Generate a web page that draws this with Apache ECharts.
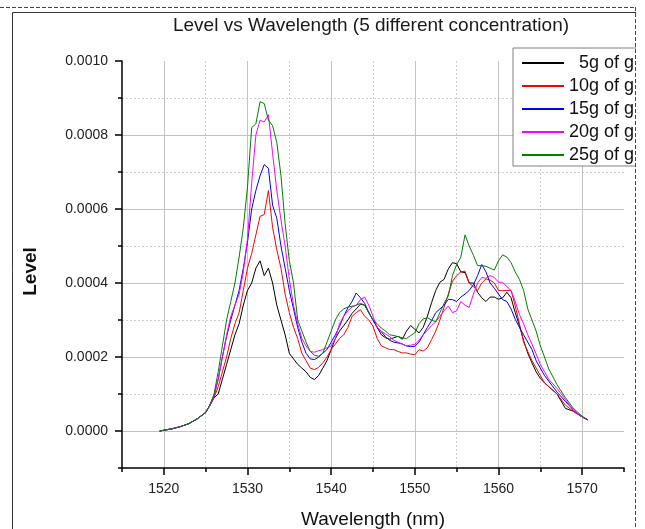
<!DOCTYPE html>
<html><head><meta charset="utf-8">
<script src="https://cdn.jsdelivr.net/npm/echarts@6/dist/echarts.min.js"></script>
<style>html,body{margin:0;padding:0;background:#fff}#c{width:645px;height:529px}</style>
</head><body><div id="c"></div>
<script>
// ---------------- data ----------------
const wavelengths = [
  1519.5, 1520, 1521, 1522, 1523, 1524, 1525, 1525.5,
  1526, 1526.5, 1527, 1527.5, 1528, 1528.5, 1529, 1529.5, 1530, 1530.5,
  1531, 1531.5, 1532, 1532.5, 1533, 1533.5, 1534, 1534.5, 1535, 1535.5,
  1536, 1536.5, 1537, 1537.5, 1538, 1538.5, 1539, 1539.5, 1540, 1540.5,
  1541, 1541.5, 1542, 1542.5, 1543, 1543.5, 1544, 1544.5, 1545, 1545.5,
  1546, 1546.5, 1547, 1547.5, 1548, 1548.5, 1549, 1549.5, 1550, 1550.5,
  1551, 1551.5, 1552, 1552.5, 1553, 1553.5, 1554, 1554.5, 1555, 1555.5,
  1556, 1556.5, 1557, 1557.5, 1558, 1558.5, 1559, 1559.5, 1560, 1560.5,
  1561, 1561.5, 1562, 1562.5, 1563, 1563.5, 1564, 1564.5, 1565, 1565.5,
  1566, 1567, 1568, 1569, 1570, 1570.7
];
const level5g = [
  0, 0.000002, 0.000006, 0.000012, 0.00002, 0.000033, 0.00005, 0.000068,
  0.00009, 0.0001, 0.00014, 0.00018, 0.00022, 0.00026, 0.00029, 0.00034, 0.00038, 0.0004,
  0.00044, 0.00046, 0.00042, 0.00044, 0.0004, 0.00034, 0.0003, 0.00026, 0.00021, 0.000195,
  0.00018, 0.00017, 0.00016, 0.000145, 0.000139, 0.00015, 0.00017, 0.00019, 0.00022, 0.00025,
  0.00027, 0.000285, 0.0003, 0.000318, 0.00033, 0.000343, 0.00034, 0.00032, 0.0003, 0.00028,
  0.00026, 0.000252, 0.000248, 0.000252, 0.000256, 0.000248, 0.00027, 0.000285, 0.000275, 0.000265,
  0.00028, 0.00031, 0.000347, 0.00038, 0.000402, 0.00041, 0.000438, 0.000455, 0.000452, 0.00043,
  0.000428, 0.0004, 0.0004, 0.000375, 0.00036, 0.00035, 0.000362, 0.000362, 0.000356, 0.00036,
  0.000375, 0.00036, 0.00032, 0.000285, 0.000245, 0.00021, 0.000184, 0.00016, 0.000142, 0.00013,
  0.00012, 0.0001, 0.000061, 0.000053, 0.000038, 0.00003
];
const level10g = [
  0, 0.000002, 0.000006, 0.000012, 0.00002, 0.000033, 0.00005, 0.00007,
  0.00009, 0.00012, 0.00016, 0.0002, 0.00025, 0.00029, 0.00032, 0.00038, 0.00044, 0.00048,
  0.00053, 0.00058, 0.000585, 0.00065, 0.00055, 0.00049, 0.00044, 0.00037, 0.00032, 0.00028,
  0.00025, 0.00021, 0.00019, 0.00017, 0.000166, 0.000172, 0.000184, 0.0002, 0.00022, 0.000235,
  0.00025, 0.00026, 0.00028, 0.00031, 0.00032, 0.000328, 0.00031, 0.0003, 0.000283, 0.00025,
  0.00023, 0.000225, 0.00022, 0.00022, 0.000215, 0.000211, 0.000211, 0.000208, 0.000206, 0.00022,
  0.000216, 0.000225, 0.000247, 0.00027, 0.0003, 0.000335, 0.00037, 0.000405, 0.00042, 0.00043,
  0.000432, 0.0004, 0.00039, 0.00038, 0.0004, 0.000411, 0.000408, 0.0004, 0.00038, 0.000379,
  0.00038, 0.00038, 0.000338, 0.00029, 0.00024, 0.000215, 0.00019, 0.00017, 0.00015, 0.00013,
  0.00012, 0.0001, 0.00007, 0.000052, 0.000038, 0.00003
];
const level15g = [
  0, 0.000002, 0.000006, 0.000012, 0.00002, 0.000033, 0.00005, 0.00007,
  0.000095, 0.00014, 0.0002, 0.000255, 0.0003, 0.00034, 0.00038, 0.00044, 0.00051, 0.0006,
  0.00065, 0.00069, 0.00072, 0.00071, 0.00061, 0.000575, 0.0005, 0.00044, 0.00038, 0.00033,
  0.00028, 0.00024, 0.00021, 0.000195, 0.000193, 0.0002, 0.00021, 0.00022, 0.00024, 0.00026,
  0.000283, 0.00031, 0.000333, 0.00035, 0.000373, 0.00036, 0.000345, 0.00032, 0.0003, 0.00028,
  0.000268, 0.000255, 0.000245, 0.00024, 0.000238, 0.000235, 0.00023, 0.000228, 0.000229, 0.00024,
  0.00026, 0.00028, 0.000298, 0.00032, 0.00033, 0.00034, 0.000356, 0.000355, 0.00035, 0.000362,
  0.00037, 0.00038, 0.000395, 0.00042, 0.00045, 0.00043, 0.0004, 0.000386, 0.00037, 0.000355,
  0.00035, 0.00033, 0.000302, 0.00028, 0.00026, 0.00024, 0.00022, 0.00019, 0.00017, 0.00015,
  0.000135, 0.000105, 0.00008, 0.000055, 0.000038, 0.00003
];
const level20g = [
  0, 0.000002, 0.000006, 0.000012, 0.00002, 0.000033, 0.00005, 0.00007,
  0.000095, 0.00014, 0.0002, 0.00026, 0.00031, 0.00034, 0.00037, 0.00043, 0.00052, 0.00067,
  0.0008, 0.00084, 0.000835, 0.000855, 0.00075, 0.00065, 0.00057, 0.0005, 0.00041, 0.00034,
  0.00029, 0.00025, 0.00023, 0.000215, 0.000213, 0.000217, 0.00022, 0.000225, 0.00023, 0.00025,
  0.00029, 0.00031, 0.000325, 0.000335, 0.00034, 0.000355, 0.000362, 0.00034, 0.00031, 0.00028,
  0.00027, 0.000262, 0.000255, 0.000245, 0.00024, 0.000235, 0.00023, 0.000232, 0.000234, 0.000245,
  0.00026, 0.000272, 0.000285, 0.000295, 0.00031, 0.000325, 0.000338, 0.00032, 0.000325, 0.00035,
  0.00034, 0.000334, 0.00037, 0.0004, 0.000415, 0.000413, 0.00042, 0.000415, 0.000402, 0.000402,
  0.00039, 0.00038, 0.00035, 0.000315, 0.00029, 0.00026, 0.000235, 0.000208, 0.00018, 0.00016,
  0.00014, 0.000115, 0.000085, 0.000055, 0.000038, 0.00003
];
const level25g = [
  0, 0.000002, 0.000006, 0.000012, 0.00002, 0.000033, 0.00005, 0.00007,
  0.0001, 0.00016, 0.00023, 0.0003, 0.00035, 0.0004, 0.00047, 0.00055, 0.00066, 0.00082,
  0.00083, 0.00089, 0.000885, 0.00084, 0.000825, 0.00078, 0.00069, 0.00056, 0.00046, 0.0004,
  0.0003, 0.00027, 0.00024, 0.000215, 0.000205, 0.000202, 0.00021, 0.00024, 0.00027, 0.0003,
  0.00032, 0.00033, 0.000335, 0.000337, 0.00034, 0.000345, 0.00034, 0.00032, 0.0003, 0.00029,
  0.000278, 0.00027, 0.00026, 0.000258, 0.000255, 0.000252, 0.00025, 0.000258, 0.000265, 0.00029,
  0.000303, 0.000306, 0.0003, 0.000295, 0.00032, 0.000345, 0.000365, 0.00042, 0.00045, 0.00047,
  0.00053, 0.0005, 0.000475, 0.000447, 0.000447, 0.000445, 0.00044, 0.000435, 0.00046, 0.000476,
  0.00047, 0.000455, 0.00043, 0.00041, 0.00038, 0.00033, 0.0003, 0.00027, 0.00023, 0.0002,
  0.000168, 0.000125, 0.00009, 0.00006, 0.00004, 0.00003
];
const seriesNames = ['5g of g', '10g of g', '15g of g', '20g of g', '25g of g'];
const seriesLevels = [level5g, level10g, level15g, level20g, level25g];
const seriesColors = ['#000000', '#ff0000', '#0000ff', '#ff00ff', '#008000'];
const xMajorTicks = [1520, 1575, 10];      // first tick, axis end, step of labelled ticks
const yMajorTicks = [0, 0.001, 0.0002];    // first, last, step of labelled ticks
const titleText = 'Level vs Wavelength (5 different concentration)';
const xTitle = 'Wavelength (nm)';
const yTitle = 'Level';

// ---------------- layout ----------------
const W = 645, H = 529;
const L = 122, R = 624, T = 61, B = 468;          // plot frame in px
const xMin = 1515, xMax = 1575, yMin = -0.0001, yMax = 0.001;
const px = v => L + (v - xMin) / (xMax - xMin) * (R - L);
const py = v => B - (v - yMin) / (yMax - yMin) * (B - T);
const FONT = '"Liberation Sans", Arial, sans-serif';
const TR = 'rgba(0,0,0,0)';
const MINOR = '#cfcfcf';
const MAJOR = '#c2c2c2';
// minor (dotted) grid lines: only between labelled ticks
const xMinorColors = [TR, TR, MINOR, TR, MINOR, TR, MINOR, TR, MINOR, TR, MINOR, TR, TR];
const yMinorColors = [TR, TR, MINOR, TR, MINOR, TR, MINOR, TR, MINOR, TR, MINOR, TR];
// major vertical grid lines at 1520..1570, none at the axis end (1575)
const xMajorColors = [MAJOR, MAJOR, MAJOR, MAJOR, MAJOR, MAJOR, TR];
const axisLineStyle = { color: '#000', width: 1.5 };

const chart = echarts.init(document.getElementById('c'), null, { renderer: 'canvas' });
chart.setOption({
  animation: false,
  backgroundColor: '#fff',
  title: {
    text: titleText, left: 366, top: 11, textAlign: 'center',
    textStyle: { fontFamily: FONT, fontSize: 19, fontWeight: 'normal', color: '#1a1a1a' }
  },
  legend: {
    orient: 'vertical', left: 513, top: 48,
    padding: [6, 40, 2, 8], itemWidth: 42, itemHeight: 14, itemGap: 5,
    borderColor: '#808080', borderWidth: 1, backgroundColor: '#fff',
    itemStyle: { opacity: 0 },
    data: seriesNames,
    formatter: n => (n.length < 8 ? '  ' + n : n),
    textStyle: { fontFamily: FONT, fontSize: 18, color: '#111' }
  },
  grid: [
    { left: L, top: T, width: R - L, height: B - T, outerBoundsMode: 'none' },
    { left: px(xMajorTicks[0]), top: T, width: px(xMajorTicks[1]) - px(xMajorTicks[0]), height: B - T, outerBoundsMode: 'none' },
    { left: L, top: py(yMajorTicks[1]), width: R - L, height: py(yMajorTicks[0]) - py(yMajorTicks[1]), outerBoundsMode: 'none' }
  ],
  xAxis: [
    {
      gridIndex: 0, type: 'value', min: xMin, max: xMax, interval: 5,
      axisLine: { show: true, onZero: false, lineStyle: axisLineStyle },
      axisTick: { show: true, length: 4, lineStyle: axisLineStyle },
      axisLabel: { show: false },
      splitLine: { show: true, lineStyle: { type: [2, 2], color: xMinorColors, width: 1 } },
      name: xTitle, nameLocation: 'middle', nameGap: 42,
      nameTextStyle: { fontFamily: FONT, fontSize: 19, color: '#111' }
    },
    {
      gridIndex: 1, type: 'value', min: xMajorTicks[0], max: xMajorTicks[1], interval: xMajorTicks[2],
      axisLine: { show: false, onZero: false },
      axisTick: { show: true, length: 7, lineStyle: axisLineStyle },
      axisLabel: { show: true, margin: 14, fontFamily: FONT, fontSize: 14, color: '#222',
        showMaxLabel: false, formatter: v => (v % 10 === 0 ? String(v) : '') },
      splitLine: { show: true, lineStyle: { color: xMajorColors, width: 1 } }
    },
    { gridIndex: 2, type: 'value', min: xMin, max: xMax, show: false }
  ],
  yAxis: [
    {
      gridIndex: 0, type: 'value', min: yMin, max: yMax, interval: 0.0001,
      axisLine: { show: true, onZero: false, lineStyle: axisLineStyle },
      axisTick: { show: true, length: 4, lineStyle: axisLineStyle },
      axisLabel: { show: false },
      splitLine: { show: true, lineStyle: { type: [2, 2], color: yMinorColors, width: 1 } },
      name: yTitle, nameLocation: 'middle', nameGap: 82,
      nameTextStyle: { fontFamily: FONT, fontSize: 19, fontWeight: 'bold', color: '#111', padding: [0, 14, 0, 0] }
    },
    { gridIndex: 1, type: 'value', min: yMin, max: yMax, show: false },
    {
      gridIndex: 2, type: 'value', min: yMajorTicks[0], max: yMajorTicks[1], interval: yMajorTicks[2],
      axisLine: { show: false, onZero: false },
      axisTick: { show: true, length: 7, lineStyle: axisLineStyle },
      axisLabel: { show: true, margin: 14, fontFamily: FONT, fontSize: 14, color: '#222', formatter: v => v.toFixed(4) },
      splitLine: { show: true, showMaxLine: false, lineStyle: { color: MAJOR, width: 1 } }
    }
  ],
  series: seriesNames.map((name, i) => ({
    name, type: 'line', xAxisIndex: 0, yAxisIndex: 0,
    symbol: 'none', smooth: false,
    lineStyle: { color: seriesColors[i], width: 1 },
    itemStyle: { color: seriesColors[i] },
    data: wavelengths.map((w, j) => [w, seriesLevels[i][j]])
  })),
  graphic: [
    { type: 'rect', z: 100, shape: { x: 636, y: 0, width: W - 636, height: H }, style: { fill: '#fff' } },
    { type: 'line', z: 101, shape: { x1: 0, y1: 7.5, x2: 636, y2: 7.5 }, style: { stroke: '#444', lineWidth: 1, lineDash: [4, 2] } },
    { type: 'line', z: 101, shape: { x1: 635.5, y1: 7, x2: 635.5, y2: H }, style: { stroke: '#444', lineWidth: 1, lineDash: [4, 2] } },
    { type: 'line', z: 101, shape: { x1: 12.5, y1: 12.5, x2: 636, y2: 12.5 }, style: { stroke: '#333', lineWidth: 1 } },
    { type: 'line', z: 101, shape: { x1: 12.5, y1: 12.5, x2: 12.5, y2: H }, style: { stroke: '#333', lineWidth: 1 } }
  ]
});
</script>
</body></html>
